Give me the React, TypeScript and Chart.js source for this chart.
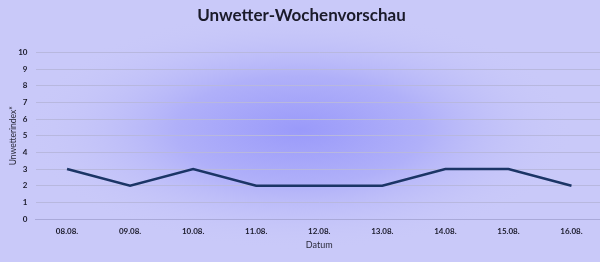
import React, { useEffect, useRef } from "react";
import { Chart, registerables } from "chart.js";

Chart.register(...registerables);

const categories = ["08.08.", "09.08.", "10.08.", "11.08.", "12.08.", "13.08.", "14.08.", "15.08.", "16.08."];
const indexValues = [3, 2, 3, 2, 2, 2, 3, 3, 2];
const titleText = "Unwetter-Wochenvorschau";
const yTitle = "Unwetterindex*";
const xTitle = "Datum";

const bgPlugin = {
  id: "bgGradient",
  beforeDraw(chart: any) {
    const { ctx, width, height } = chart;
    ctx.save();
    ctx.fillStyle = "#c9c9f9";
    ctx.fillRect(0, 0, width, height);
    ctx.translate(300, 130);
    ctx.scale(2.3, 1);
    const g = ctx.createRadialGradient(0, 0, 0, 0, 0, 120);
    g.addColorStop(0, "#9a9afa");
    g.addColorStop(0.45, "#b0b0f9");
    g.addColorStop(1, "rgba(201,201,249,0)");
    ctx.fillStyle = g;
    ctx.beginPath();
    ctx.arc(0, 0, 120, 0, Math.PI * 2);
    ctx.fill();
    ctx.restore();
  },
};

export default function App() {
  const ref = useRef<HTMLCanvasElement>(null);
  useEffect(() => {
    const chart = new Chart(ref.current!, {
      type: "line",
      data: {
        labels: categories,
        datasets: [
          {
            data: indexValues,
            borderColor: "#1b3566",
            borderWidth: 2.5,
            pointRadius: 0,
            tension: 0,
          },
        ],
      },
      plugins: [bgPlugin],
      options: {
        animation: false,
        responsive: false,
        layout: { padding: { left: 0, right: 0, top: 0, bottom: 12 } },
        plugins: {
          legend: { display: false },
          tooltip: { enabled: false },
          title: {
            display: true,
            text: titleText,
            color: "#1a1a2a",
            font: { family: "Lato", size: 17, weight: "bold" },
            padding: { top: 5, bottom: 27 },
          },
        },
        scales: {
          x: {
            offset: true,
            grid: { display: false, drawTicks: false },
            border: { display: true, color: "#a9a9d9", width: 1 },
            ticks: {
              color: "#1a1a2a",
              font: { family: "Lato", size: 8, weight: "bold" },
              padding: 8,
              maxRotation: 0,
            },
            title: {
              display: true,
              text: xTitle,
              color: "#2a2a3a",
              font: { family: "Lato", size: 9 },
              padding: { top: 2, bottom: 0 },
            },
            afterFit: (s: any) => {
              s.height = 31;
            },
          },
          y: {
            min: 0,
            max: 10,
            grid: { color: "#b8b8de", drawTicks: false, lineWidth: 1 },
            border: { display: false },
            ticks: {
              stepSize: 1,
              color: "#1a1a2a",
              font: { family: "Lato", size: 8, weight: "bold" },
              padding: 8,
            },
            title: {
              display: true,
              text: yTitle,
              color: "#2a2a3a",
              font: { family: "Lato", size: 8.5 },
              padding: { top: 8, bottom: 2 },
            },
            afterFit: (s: any) => {
              s.width = 35.5;
            },
          },
        },
      },
    });
    return () => chart.destroy();
  }, []);
  return (
    <div style={{ position: "absolute", left: 0, top: 0, width: 600, height: 262, overflow: "hidden" }}>
      <canvas ref={ref} width={603} height={262} style={{ display: "block" }} />
    </div>
  );
}
